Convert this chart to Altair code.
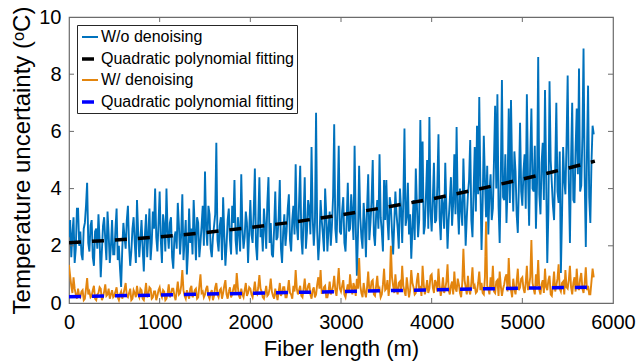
import altair as alt
import pandas as pd

# W/o denoising (blue trace), °C, one reading every 12.5 m from 0 m
wo_vals = [
    2.3, 2.9, 1.6, 2.4, 3.0, 1.4, 1.9, 3.3, 3.3, 2.0, 2.5, 1.7, 1.5, 2.6, 2.8, 3.4, 4.2, 2.1, 1.8, 2.7,
    2.9, 1.6, 1.3, 2.5, 2.6, 1.9, 3.1, 2.2, 0.9, 1.8, 2.7, 3.0, 2.2, 1.5, 3.2, 2.4, 1.4, 2.0, 2.9, 1.7,
    1.7, 2.6, 3.3, 1.5, 2.0, 1.2, 0.56, 1.9, 2.8, 2.3, 1.9, 2.9, 3.4, 2.0, 1.3, 1.8, 2.6, 3.0, 2.1, 1.4,
    3.6, 2.5, 1.6, 2.2, 2.9, 1.9, 1.1, 2.4, 3.1, 1.6, 2.4, 3.3, 1.5, 2.1, 3.2, 2.6, 4.0, 2.3, 1.8, 2.8,
    3.9, 2.2, 1.4, 3.1, 2.7, 1.8, 4.0, 2.5, 1.9, 2.8, 3.0, 1.6, 1.2, 2.3, 2.5, 1.9, 3.5, 2.7, 1.7, 2.4,
    3.8, 1.5, 2.2, 2.9, 1.0, 1.8, 3.3, 2.1, 2.6, 1.7, 3.6, 2.6, 1.5, 3.0, 2.8, 1.6, 2.1, 2.7, 3.4, 2.0,
    4.6, 2.6, 2.0, 3.4, 3.1, 1.9, 1.6, 2.3, 2.7, 3.1, 5.6, 2.2, 1.8, 2.7, 3.0, 1.5, 3.7, 2.4, 1.3, 2.0,
    2.9, 3.3, 2.2, 1.7, 3.4, 2.8, 4.3, 2.2, 1.7, 3.0, 2.5, 1.8, 4.5, 2.6, 1.9, 2.3, 3.2, 2.8, 1.4, 2.5,
    3.6, 2.4, 2.1, 3.2, 4.7, 2.0, 1.5, 2.9, 4.4, 2.3, 2.6, 1.8, 3.3, 2.7, 1.9, 3.5, 4.4, 2.1, 2.8, 1.7,
    1.6, 2.6, 3.9, 2.2, 2.3, 3.0, 4.3, 1.9, 1.4, 2.5, 3.1, 2.0, 2.5, 3.3, 3.8, 2.2, 1.8, 2.9, 3.4, 2.4,
    4.85, 2.7, 2.2, 3.5, 4.8, 2.3, 1.7, 3.0, 4.4, 1.9, 2.5, 3.6, 3.3, 2.4, 5.45, 3.0, 2.0, 2.8, 6.65, 2.5,
    1.5, 2.2, 3.6, 2.9, 2.4, 1.8, 4.0, 3.1, 1.8, 2.6, 3.2, 2.0, 2.7, 3.7, 6.25, 2.6, 2.1, 3.4, 5.5, 2.5,
    2.4, 3.2, 3.7, 2.1, 1.8, 2.9, 4.2, 2.5, 2.6, 3.8, 3.1, 2.2, 5.5, 2.7, 0.95, 2.4, 4.8, 3.0, 2.3, 1.9,
    3.5, 2.8, 1.6, 3.3, 4.5, 2.2, 2.8, 3.6, 5.0, 2.4, 2.0, 3.1, 3.6, 2.6, 5.2, 3.0, 2.5, 1.8, 4.3, 2.9,
    4.3, 2.9, 2.2, 3.7, 3.4, 2.5, 1.7, 2.8, 3.9, 3.1, 2.6, 1.9, 4.0, 3.3, 2.1, 3.6, 6.1, 2.7, 3.0, 4.2,
    2.4, 3.1, 1.55, 2.6, 3.6, 2.2, 4.7, 3.4, 2.3, 2.9, 6.4, 3.5, 5.65, 2.4, 2.7, 3.8, 5.0, 2.6, 6.5, 3.2,
    2.5, 3.6, 4.9, 2.8, 2.9, 4.1, 5.9, 3.0, 2.2, 3.7, 3.4, 2.6, 4.9, 3.3, 1.9, 2.9, 3.6, 4.4, 2.7, 3.5,
    5.2, 3.1, 6.15, 3.4, 2.4, 4.0, 3.3, 2.7, 5.05, 3.6, 2.0, 3.0, 3.8, 4.3, 5.7, 2.9, 2.3, 3.9, 5.45, 3.2,
    6.2, 3.8, 7.2, 4.1, 1.85, 3.5, 5.85, 4.3, 3.0, 4.8, 2.4, 3.9, 4.5, 2.9, 3.3, 5.0, 6.9, 4.0, 7.3, 3.4,
    2.1, 4.4, 7.8, 3.7, 3.6, 5.2, 2.8, 4.1, 6.8, 3.5, 7.1, 4.6, 3.2, 5.3, 4.6, 3.1, 2.45, 4.2, 6.3, 3.9,
    3.4, 4.6, 5.2, 3.3, 7.3, 4.4, 2.7, 5.1, 6.8, 4.0, 3.9, 5.5, 2.6, 4.2, 8.6, 3.8, 3.1, 4.9, 5.6, 3.6,
    7.45, 4.5, 1.4, 3.2, 7.75, 5.0, 4.2, 3.4, 2.9, 4.7, 7.0, 3.9, 3.5, 5.3, 1.05, 3.0, 5.45, 4.3, 3.8, 5.6,
    7.95, 4.2, 2.1, 5.0, 7.0, 3.6, 3.5, 5.4, 6.8, 4.5, 8.2, 3.9, 4.1, 5.8, 8.9, 4.4, 1.96, 5.2, 7.6, 3.7,
    2.8, 4.9, 6.2, 5.9,
]

# W/ denoising (orange trace), °C, one reading every 12.5 m from 0 m
w_vals = [
    1.33, 0.95, 0.6, 0.35, 0.9, 0.5, 0.3, 0.15, 0.5, 0.25, 0.2, 0.4, 0.45, 0.1, 0.15, 0.5, 0.87, 0.3, 0.4, 0.2,
    0.25, 0.45, 0.6, 0.15, 0.1, 0.3, 0.35, 0.55, 0.5, 0.1, 0.2, 0.4, 0.65, 0.25, 0.3, 0.5, 0.15, 0.3, 0.45, 0.2,
    0.25, 0.4, 0.55, 0.2, 0.1, 0.3, 0.4, 0.15, 0.3, 0.5, 0.7, 0.25, 0.2, 0.35, 0.5, 0.1, 0.15, 0.45, 0.35, 0.2,
    0.6, 0.3, 0.2, 0.5, 0.45, 0.15, 0.1, 0.35, 0.7, 0.2, 0.3, 0.55, 0.5, 0.15, 0.2, 0.4, 0.4, 0.1, 0.25, 0.45,
    0.55, 0.3, 0.2, 0.45, 0.4, 0.1, 0.15, 0.35, 0.65, 0.2, 0.3, 0.5, 0.5, 0.25, 0.1, 0.4, 0.75, 0.3, 0.35, 0.6,
    1.15, 0.45, 0.25, 0.15, 0.45, 0.3, 0.15, 0.5, 0.6, 0.2, 0.3, 0.45, 0.5, 0.15, 0.2, 0.6, 1.0, 0.35, 0.4, 0.2,
    0.3, 0.5, 0.6, 0.25, 0.15, 0.35, 0.45, 0.1, 0.25, 0.55, 0.7, 0.3, 0.2, 0.45, 0.5, 0.15, 0.35, 0.6, 0.8, 0.3,
    0.15, 0.4, 0.55, 0.2, 0.3, 0.5, 0.65, 0.35, 1.05, 0.55, 0.25, 0.15, 0.5, 0.3, 0.2, 0.45, 0.7, 0.25, 0.35, 0.55,
    0.5, 0.3, 0.2, 0.45, 0.75, 0.35, 0.3, 0.55, 0.98, 0.5, 0.4, 0.2, 0.15, 0.35, 0.6, 0.25, 0.3, 0.5, 0.85, 0.4,
    0.25, 0.15, 0.5, 0.3, 0.1, 0.4, 0.7, 0.25, 0.35, 0.55, 0.55, 0.2, 0.2, 0.45, 0.8, 0.35, 0.3, 0.15, 0.6, 0.4,
    1.15, 0.5, 0.3, 0.45, 0.6, 0.25, 0.2, 0.5, 0.85, 0.4, 0.4, 0.6, 0.7, 0.3, 0.15, 0.45, 0.55, 0.2, 0.3, 0.65,
    0.9, 0.5, 1.15, 0.35, 0.35, 0.55, 0.6, 0.2, 0.2, 0.4, 0.75, 0.3, 0.4, 0.6, 0.95, 0.45, 0.25, 0.7, 1.22, 0.5,
    0.4, 0.6, 0.8, 0.3, 0.2, 0.45, 0.65, 0.35, 1.0, 0.55, 0.3, 0.7, 0.55, 0.25, 0.85, 0.5, 1.57, 0.6, 0.35, 0.2,
    0.7, 0.4, 0.2, 0.55, 1.1, 0.45, 0.45, 0.75, 0.8, 0.3, 0.25, 0.6, 0.95, 0.4, 0.5, 0.2, 0.3, 0.65, 1.2, 0.45,
    0.5, 0.8, 0.25, 0.6, 2.0, 0.9, 0.6, 0.35, 1.0, 0.5, 0.3, 0.7, 0.75, 0.4, 1.3, 0.6, 0.4, 0.25, 0.9, 0.55,
    0.2, 0.45, 1.15, 0.7, 0.55, 0.3, 0.35, 0.8, 1.05, 0.45, 0.6, 0.25, 1.3, 0.65, 0.3, 0.5, 0.8, 0.35, 0.5, 0.95,
    1.0, 0.55, 0.35, 0.8, 0.7, 0.4, 1.2, 0.6, 0.25, 0.5, 0.9, 0.35, 0.5, 0.75, 1.35, 0.45, 0.3, 0.6, 0.75, 0.3,
    1.1, 0.5, 0.4, 0.85, 0.65, 0.35, 0.2, 0.7, 1.9, 0.8, 0.55, 0.3, 0.95, 0.45, 0.3, 0.7, 1.25, 0.5, 0.6, 0.35,
    0.4, 0.7, 1.1, 0.45, 0.7, 0.35, 0.3, 0.9, 2.85, 0.6, 0.5, 0.3, 0.9, 0.55, 1.3, 0.4, 0.35, 0.75, 0.8, 0.25,
    1.1, 0.6, 0.25, 0.5, 0.65, 0.9, 1.0, 0.4, 1.57, 0.6, 0.45, 0.2, 0.85, 0.5, 0.3, 0.75, 1.2, 0.45, 0.55, 0.85,
    0.9, 0.5, 0.35, 0.7, 1.3, 0.45, 0.6, 0.9, 2.2, 0.7, 0.5, 0.3, 1.0, 0.6, 1.5, 0.45, 0.3, 0.65, 0.8, 0.35,
    1.2, 0.55, 0.45, 0.8, 0.95, 0.3, 0.25, 0.6, 1.1, 0.4, 0.6, 0.85, 1.35, 0.5, 0.4, 0.7, 0.75, 0.3, 1.15, 0.55,
    0.5, 0.8, 1.3, 0.55, 0.3, 0.7, 0.9, 0.4, 1.2, 0.6, 0.45, 0.85, 1.05, 0.5, 0.35, 0.7, 1.25, 0.45, 0.6, 0.3,
    0.3, 0.75, 1.2, 0.9,
]

STEP_M = 12.5
wo_pos = [i * STEP_M for i in range(len(wo_vals))]
w_pos = [i * STEP_M for i in range(len(w_vals))]

# Quadratic polynomial fits
fit_pos = [0, 500, 1000, 1500, 2000, 2500, 3000, 3500, 4000, 4500, 5000, 5500, 5800]
fit_wo = [2.11, 2.20, 2.31, 2.46, 2.64, 2.84, 3.08, 3.35, 3.64, 3.97, 4.33, 4.71, 4.96]
fit_w = [0.22, 0.25, 0.28, 0.31, 0.34, 0.37, 0.40, 0.43, 0.46, 0.49, 0.52, 0.54, 0.56]

x_ticks = [0, 1000, 2000, 3000, 4000, 5000, 6000]
y_ticks = [0, 2, 4, 6, 8, 10]

keys = ["wo", "fit_wo", "w", "fit_w"]
colors = ["#0072BD", "#000000", "#E3850E", "#0000FF"]
dashes = [[1, 0], [12, 11], [1, 0], [12, 11]]
widths = [1.9, 3.5, 1.9, 3.5]

df = pd.concat([
    pd.DataFrame({"pos": wo_pos, "val": wo_vals, "series": "wo"}),
    pd.DataFrame({"pos": fit_pos, "val": fit_wo, "series": "fit_wo"}),
    pd.DataFrame({"pos": w_pos, "val": w_vals, "series": "w"}),
    pd.DataFrame({"pos": fit_pos, "val": fit_w, "series": "fit_w"}),
], ignore_index=True)

FONT = "Liberation Sans"
FRAME = "#6b6b6b"

label_expr = ("datum.label == 'wo' ? 'W/o denoising' : datum.label == 'w' ? 'W/ denoising' "
              ": 'Quadratic polynomial fitting'")

legend = alt.Legend(
    orient="none", legendX=8, legendY=8, title=None, symbolType="stroke",
    symbolSize=256, labelFontSize=16, labelFont=FONT, labelColor="#000000",
    labelLimit=400, labelExpr=label_expr, fillColor="#ffffff", strokeColor="#262626",
    padding=3, rowPadding=4, labelOffset=1,
)

xs = alt.Scale(domain=[0, 6000], nice=False)
ys = alt.Scale(domain=[0, 10], nice=False)

x_enc = alt.X("pos:Q", scale=xs, axis=alt.Axis(
    values=x_ticks, format="d", title="Fiber length (m)", ticks=False, domain=False, grid=False,
    labelFontSize=20, labelFont=FONT, labelColor="#000000", labelPadding=9,
    titleFontSize=22, titleFont=FONT, titleColor="#000000", titleFontWeight="normal",
    titlePadding=6, labelFlush=False))
y_enc = alt.Y("val:Q", scale=ys, axis=alt.Axis(
    values=y_ticks, format="d", title="Temperature uncertainty (ᵒC)", ticks=False, domain=False,
    grid=False, labelFontSize=20, labelFont=FONT, labelColor="#000000", labelPadding=8,
    titleFontSize=24, titleFont=FONT, titleColor="#000000", titleFontWeight="normal",
    titlePadding=4, labelFlush=False))


def layer_for(key):
    return alt.Chart(df).transform_filter(alt.datum.series == key).mark_line(
        clip=True, strokeJoin="miter", strokeCap="butt").encode(
        x=x_enc, y=y_enc,
        color=alt.Color("series:N", scale=alt.Scale(domain=keys, range=colors), legend=legend),
        strokeDash=alt.StrokeDash("series:N", scale=alt.Scale(domain=keys, range=dashes), legend=legend),
        strokeWidth=alt.StrokeWidth("series:N", scale=alt.Scale(type="ordinal", domain=keys, range=widths),
                                    legend=legend),
        order="pos:Q",
    )


xt = pd.DataFrame({"t": x_ticks[1:-1]})
yt = pd.DataFrame({"t": y_ticks[1:-1]})
tick_bottom = alt.Chart(xt).mark_rule(color=FRAME, strokeWidth=1).encode(
    x=alt.X("t:Q", scale=xs), y=alt.value(286), y2=alt.value(281))
tick_top = alt.Chart(xt).mark_rule(color=FRAME, strokeWidth=1).encode(
    x=alt.X("t:Q", scale=xs), y=alt.value(0), y2=alt.value(5))
tick_left = alt.Chart(yt).mark_rule(color=FRAME, strokeWidth=1).encode(
    y=alt.Y("t:Q", scale=ys), x=alt.value(0), x2=alt.value(5))
tick_right = alt.Chart(yt).mark_rule(color=FRAME, strokeWidth=1).encode(
    y=alt.Y("t:Q", scale=ys), x=alt.value(544), x2=alt.value(539))

chart = alt.layer(
    layer_for("wo"), layer_for("fit_wo"), layer_for("w"), layer_for("fit_w"),
    tick_bottom, tick_top, tick_left, tick_right,
).properties(
    width=544, height=286, autosize="none",
    padding={"left": 69, "top": 17, "right": 28, "bottom": 60},
    background="#ffffff",
).configure_view(stroke=FRAME, strokeWidth=1.2)

chart.save("out.html", embed_options={"renderer": "svg", "actions": False})
